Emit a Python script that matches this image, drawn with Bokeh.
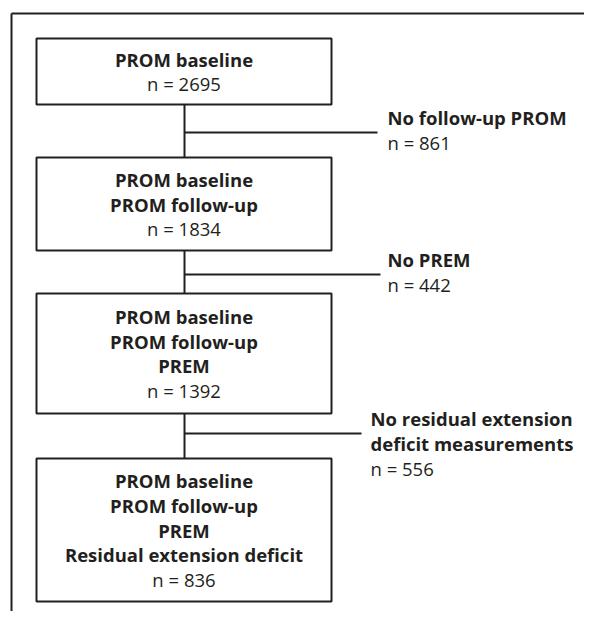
from bokeh.plotting import figure
from bokeh.models import Range1d
from bokeh.core.properties import value
from bokeh.embed import file_html
from bokeh.resources import INLINE

# ---- data ----
stage_labels = [
    ["PROM baseline"],
    ["PROM baseline", "PROM follow-up"],
    ["PROM baseline", "PROM follow-up", "PREM"],
    ["PROM baseline", "PROM follow-up", "PREM", "Residual extension deficit"],
]
stage_n = [2695, 1834, 1392, 836]
excl_labels = [
    ["No follow-up PROM"],
    ["No PREM"],
    ["No residual extension", "deficit measurements"],
]
excl_n = [861, 442, 556]

# ---- layout (picture pixel coordinates) ----
W, H = 584, 611
box_left, box_right = 36, 331
box_tops = [38, 157, 293, 458]
box_bottoms = [104, 250, 413, 601]
stem_x = 184
branch_y = [132, 274, 433]
branch_end = [377, 380, 361]
text_x = [387, 387, 370]
LINE = 24.7
INK = "#231f20"
FONT = value("Open Sans")
FS = "18.5px"

p = figure(width=W, height=H, output_backend="svg", toolbar_location=None,
           x_range=Range1d(0, W), y_range=Range1d(H, 0),
           min_border=0)
p.axis.visible = False
p.grid.visible = False
p.outline_line_color = None
p.background_fill_color = "white"

# outer frame (top & left)
p.line([11, 600], [13, 13], line_color=INK, line_width=2)
p.line([11, 11], [13, 640], line_color=INK, line_width=2)

# boxes
p.quad(left=[box_left] * 4, right=[box_right] * 4, top=box_tops, bottom=box_bottoms,
       fill_color="white", line_color=INK, line_width=2)

# connectors
for i in range(3):
    p.line([stem_x, stem_x], [box_bottoms[i], box_tops[i + 1]], line_color=INK, line_width=2)
    p.line([stem_x, branch_end[i]], [branch_y[i], branch_y[i]], line_color=INK, line_width=2)

# box texts
bx, by, bt = [], [], []
nx, ny, nt = [], [], []
cx = (box_left + box_right) / 2
for i, labels in enumerate(stage_labels):
    k = len(labels) + 1
    mid = (box_tops[i] + box_bottoms[i]) / 2
    y0 = mid - (k - 1) * LINE / 2
    for j, lab in enumerate(labels):
        bx.append(cx); by.append(y0 + j * LINE); bt.append(lab)
    nx.append(cx); ny.append(y0 + len(labels) * LINE); nt.append(f"n = {stage_n[i]}")

p.text(x=bx, y=by, text=bt, text_align="center", text_baseline="middle",
       text_font=FONT, text_font_style="bold", text_font_size=FS, text_color=INK)
p.text(x=nx, y=ny, text=nt, text_align="center", text_baseline="middle",
       text_font=FONT, text_font_size=FS, text_color=INK)

# exclusion texts
ex, ey, et = [], [], []
fx, fy, ft = [], [], []
for i, labels in enumerate(excl_labels):
    k = len(labels)
    y0 = branch_y[i] - LINE * 0.6
    for j, lab in enumerate(labels):
        ex.append(text_x[i]); ey.append(y0 + j * LINE); et.append(lab)
    fx.append(text_x[i]); fy.append(y0 + k * LINE); ft.append(f"n = {excl_n[i]}")

p.text(x=ex, y=ey, text=et, text_align="left", text_baseline="middle",
       text_font=FONT, text_font_style="bold", text_font_size=FS, text_color=INK)
p.text(x=fx, y=fy, text=ft, text_align="left", text_baseline="middle",
       text_font=FONT, text_font_size=FS, text_color=INK)

open("out.html", "w").write(file_html(p, INLINE))
